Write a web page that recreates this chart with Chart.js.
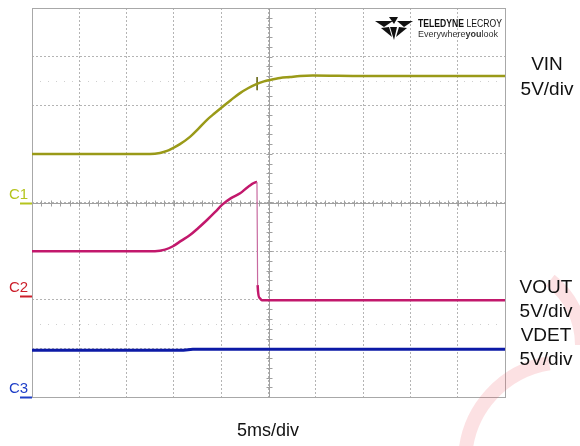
<!DOCTYPE html>
<html>
<head>
<meta charset="utf-8">
<script src="https://cdn.jsdelivr.net/npm/chart.js@4/dist/chart.umd.min.js"></script>
<style>
  html, body { margin: 0; padding: 0; background: #ffffff; }
  #wrap { width: 580px; height: 446px; position: relative; }
</style>
</head>
<body>
<div id="wrap"><canvas id="c" width="580" height="446"></canvas></div>
<script>
// Time axis: 10 divisions x 5 ms/div ; vertical: 8 divisions (values in divisions, 5 V/div)
const xTicks = [0, 5, 10, 15, 20, 25, 30, 35, 40, 45, 50];
const yTicks = [-4, -3, -2, -1, 0, 1, 2, 3, 4];

const vinTime = [0, 12.47, 13.53, 14.27, 14.90, 15.64, 16.70, 17.55, 18.50, 19.34, 20.08, 21.04, 21.99, 22.83, 23.78, 24.52, 25.16, 26.22, 27.27, 28.33, 29.70, 35, 50];
const vinDiv  = [1.00, 1.00, 1.02, 1.06, 1.12, 1.20, 1.35, 1.51, 1.70, 1.84, 1.96, 2.11, 2.25, 2.35, 2.44, 2.49, 2.52, 2.56, 2.58, 2.60, 2.61, 2.60, 2.60];

const voutTime = [0, 13.0, 14.06, 14.9, 15.75, 16.7, 17.55, 18.5, 19.34, 20.08, 21.04, 22.0, 22.83, 23.78, 23.85, 24.05, 24.3, 50];
const voutDiv  = [-1.0, -1.0, -0.97, -0.90, -0.79, -0.67, -0.53, -0.36, -0.20, -0.05, 0.09, 0.19, 0.32, 0.42, -1.70, -1.96, -2.01, -2.01];

const vdetTime = [0, 16, 17, 50];
const vdetDiv  = [-3.04, -3.04, -3.02, -3.02];

const markTime = [23.8, 23.8];
const markDiv  = [2.58, 2.31];

const channelLabels = ['C1', 'C2', 'C3'];
const channelLevels = [0, -1.92, -4];
const rightLabels = [['VIN', '5V/div'], ['VOUT', '5V/div', 'VDET', '5V/div']];
const timeLabel = '5ms/div';

const pts = (t, v) => t.map((x, i) => ({ x: x, y: v[i] }));

const FONT = '"Liberation Sans", Arial, sans-serif';

const decor = {
  id: 'decor',
  beforeDatasetsDraw(chart) {
    const { ctx, chartArea: a, scales: { x, y } } = chart;
    ctx.save();
    // faint dotted reference rows
    ctx.strokeStyle = '#cfcfcf';
    ctx.lineWidth = 1;
    ctx.setLineDash([1, 7]);
    [2.5, -2.5].forEach(v => {
      const py = Math.round(y.getPixelForValue(v)) + 0.5;
      ctx.beginPath(); ctx.moveTo(a.left + 8, py); ctx.lineTo(a.right - 8, py); ctx.stroke();
    });
    ctx.setLineDash([]);
    // center axes
    ctx.strokeStyle = '#a0a0a0';
    ctx.lineWidth = 1;
    const cx = Math.round(x.getPixelForValue(25)) + 0.5;
    const cy = Math.round(y.getPixelForValue(0)) + 0.5;
    ctx.beginPath();
    ctx.moveTo(cx, a.top); ctx.lineTo(cx, a.bottom);
    ctx.moveTo(a.left, cy); ctx.lineTo(a.right, cy);
    for (let t = 0; t <= 50; t += 1) {
      const px = Math.round(x.getPixelForValue(t)) + 0.5;
      ctx.moveTo(px, cy - 3); ctx.lineTo(px, cy + 3);
    }
    for (let v = -4; v <= 4.001; v += 0.2) {
      const py = Math.round(y.getPixelForValue(v)) + 0.5;
      ctx.moveTo(cx - 3, py); ctx.lineTo(cx + 3, py);
    }
    ctx.stroke();
    // frame
    ctx.strokeStyle = '#a8a8a8';
    ctx.strokeRect(Math.round(a.left) + 0.5, Math.round(a.top) + 0.5,
                   Math.round(a.right - a.left), Math.round(a.bottom - a.top));
    ctx.restore();
  },
  afterDraw(chart) {
    const { ctx, chartArea: a, scales: { x, y } } = chart;
    ctx.save();
    // watermark arcs
    ctx.strokeStyle = 'rgba(240,90,100,0.18)';
    ctx.lineWidth = 14;
    ctx.beginPath(); ctx.arc(565, 462, 100, Math.PI * 1.02, Math.PI * 1.45); ctx.stroke();
    ctx.beginPath(); ctx.arc(500, 345, 82, -Math.PI * 0.29, -Math.PI * 0.0); ctx.stroke();

    // channel markers
    const cols = ['#b5c41e', '#cc1f2b', '#1f3fc8'];
    channelLabels.forEach((lab, i) => {
      const py = Math.round(y.getPixelForValue(channelLevels[i]));
      ctx.fillStyle = cols[i];
      ctx.font = '15px ' + FONT;
      ctx.textAlign = 'left';
      ctx.textBaseline = 'alphabetic';
      ctx.fillText(lab, 9, py - 4);
      ctx.strokeStyle = cols[i];
      ctx.lineWidth = 2;
      ctx.beginPath(); ctx.moveTo(20, py + 0.5); ctx.lineTo(a.left, py + 0.5); ctx.stroke();
    });

    // right side labels
    ctx.fillStyle = '#111111';
    ctx.font = '19px ' + FONT;
    ctx.textAlign = 'center';
    ctx.textBaseline = 'middle';
    ctx.fillText(rightLabels[0][0], 547, 65);
    ctx.fillText(rightLabels[0][1], 547, 90);
    [288, 312, 336, 360].forEach((py, i) => ctx.fillText(rightLabels[1][i], 546, py));

    // time/div label
    ctx.font = '18px ' + FONT;
    ctx.fillText(timeLabel, 268, 431);

    // logo
    ctx.fillStyle = '#111111';
    ctx.beginPath();
    ctx.moveTo(375, 21); ctx.lineTo(393, 21); ctx.lineTo(384, 27); ctx.closePath(); ctx.fill();
    ctx.beginPath();
    ctx.moveTo(397, 21); ctx.lineTo(413, 21); ctx.lineTo(404, 27); ctx.closePath(); ctx.fill();
    ctx.beginPath();
    ctx.moveTo(389, 17); ctx.lineTo(398, 17); ctx.lineTo(394, 24); ctx.closePath(); ctx.fill();
    ctx.beginPath();
    ctx.moveTo(390, 27); ctx.lineTo(397, 27); ctx.lineTo(394, 40); ctx.closePath(); ctx.fill();
    ctx.beginPath();
    ctx.moveTo(381, 28); ctx.lineTo(389, 27); ctx.lineTo(392, 37); ctx.closePath(); ctx.fill();
    ctx.beginPath();
    ctx.moveTo(399, 27); ctx.lineTo(407, 28); ctx.lineTo(396, 37); ctx.closePath(); ctx.fill();

    ctx.textAlign = 'left';
    ctx.textBaseline = 'alphabetic';
    // fit "TELEDYNE LECROY" into ~84 px
    ctx.font = 'bold 10px ' + FONT;
    const wA = ctx.measureText('TELEDYNE ').width;
    ctx.font = '10px ' + FONT;
    const wB = ctx.measureText('LECROY').width;
    const sx = 84 / (wA + wB);
    ctx.save();
    ctx.translate(418, 27);
    ctx.scale(sx, 1);
    ctx.font = 'bold 10px ' + FONT;
    ctx.fillText('TELEDYNE', 0, 0);
    ctx.font = '10px ' + FONT;
    ctx.fillText('LECROY', wA, 0);
    ctx.restore();

    ctx.font = '9px ' + FONT;
    ctx.fillStyle = '#333333';
    ctx.fillText('Everywhere', 418, 37);
    let w = ctx.measureText('Everywhere').width;
    ctx.font = 'bold 9px ' + FONT;
    ctx.fillText('you', 418 + w, 37);
    w += ctx.measureText('you').width;
    ctx.font = '9px ' + FONT;
    ctx.fillText('look', 418 + w, 37);
    ctx.restore();
  }
};

new Chart(document.getElementById('c'), {
  type: 'line',
  data: {
    datasets: [
      { label: 'VIN', data: pts(vinTime, vinDiv), borderColor: '#9a9a18', borderWidth: 2.5,
        cubicInterpolationMode: 'monotone' },
      { label: 'VOUT', data: pts(voutTime, voutDiv), borderColor: '#c2186c', borderWidth: 2.5,
        cubicInterpolationMode: 'monotone',
        segment: {
          borderWidth: c => (Math.abs(c.p1.parsed.y - c.p0.parsed.y) > 1 ? 1.2 : undefined),
          borderColor: c => (Math.abs(c.p1.parsed.y - c.p0.parsed.y) > 1 ? '#c86aa0' : undefined)
        } },
      { label: 'VDET', data: pts(vdetTime, vdetDiv), borderColor: '#0c1aa6', borderWidth: 3 },
      { label: 'mark', data: pts(markTime, markDiv), borderColor: '#6e6e20', borderWidth: 1 }
    ]
  },
  options: {
    responsive: false,
    animation: false,
    events: [],
    parsing: true,
    elements: { point: { radius: 0 }, line: { tension: 0 } },
    layout: { padding: { left: 32, right: 75, top: 8, bottom: 49 } },
    plugins: { legend: { display: false }, tooltip: { enabled: false } },
    scales: {
      x: {
        type: 'linear', min: 0, max: 50,
        afterBuildTicks: s => { s.ticks = xTicks.map(v => ({ value: v })); },
        ticks: { display: false },
        grid: { color: '#b4b4b4', lineWidth: 1, drawTicks: false },
        border: { display: false, dash: [2, 2] }
      },
      y: {
        type: 'linear', min: -4, max: 4,
        afterBuildTicks: s => { s.ticks = yTicks.map(v => ({ value: v })); },
        ticks: { display: false },
        grid: { color: '#b4b4b4', lineWidth: 1, drawTicks: false },
        border: { display: false, dash: [2, 2] }
      }
    }
  },
  plugins: [decor]
});
</script>
</body>
</html>
